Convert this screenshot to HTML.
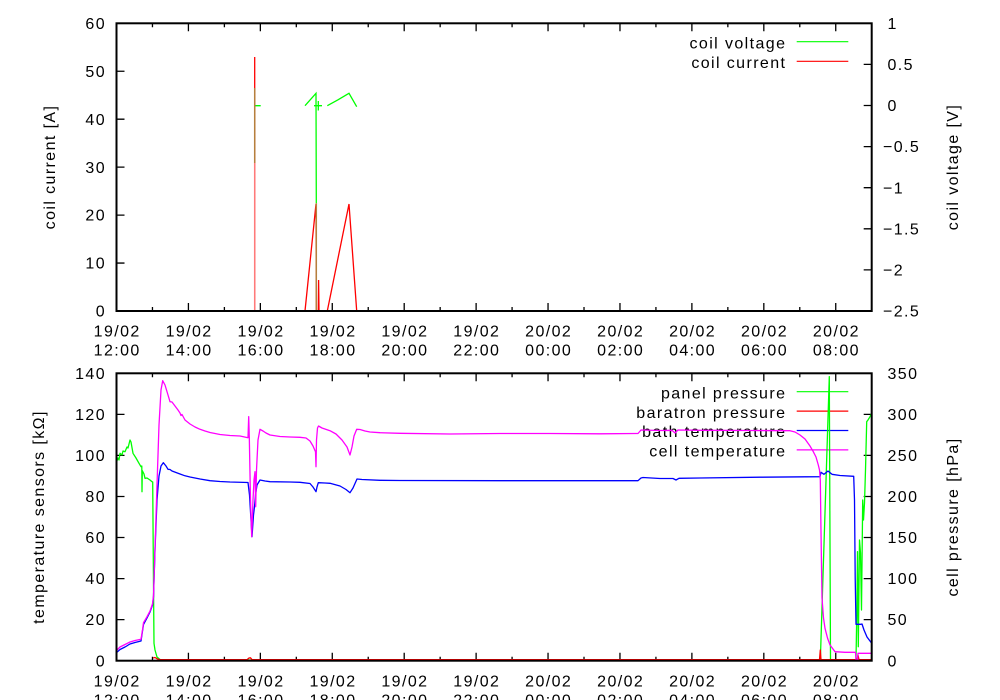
<!DOCTYPE html>
<html><head><meta charset="utf-8"><style>
html,body{margin:0;padding:0;background:#fff;}
svg{display:block;}
text{font-family:"Liberation Sans",sans-serif;font-size:16px;letter-spacing:1.4px;fill:#000;}
</style></head><body>
<svg width="1000" height="700" viewBox="0 0 1000 700" xmlns="http://www.w3.org/2000/svg">
<rect width="1000" height="700" fill="#fff"/>
<defs>
<clipPath id="c1"><rect x="116.5" y="23.3" width="755.2" height="287.7"/></clipPath>
<clipPath id="c2"><rect x="116.5" y="373.3" width="755.2" height="287.4"/></clipPath>
<g id="xtb"><path d="M188.42 0v-8M260.35 0v-8M332.27 0v-8M404.2 0v-8M476.12 0v-8M548.04 0v-8M619.97 0v-8M691.89 0v-8M763.82 0v-8M835.74 0v-8M152.46 0v-4M224.39 0v-4M296.31 0v-4M368.23 0v-4M440.16 0v-4M512.08 0v-4M584.01 0v-4M655.93 0v-4M727.85 0v-4M799.78 0v-4" stroke="#000" stroke-width="1.3" fill="none"/></g>
<g id="xtt"><path d="M188.42 0v8M260.35 0v8M332.27 0v8M404.2 0v8M476.12 0v8M548.04 0v8M619.97 0v8M691.89 0v8M763.82 0v8M835.74 0v8M152.46 0v4M224.39 0v4M296.31 0v4M368.23 0v4M440.16 0v4M512.08 0v4M584.01 0v4M655.93 0v4M727.85 0v4M799.78 0v4" stroke="#000" stroke-width="1.3" fill="none"/></g>
</defs>

<!-- ===== TOP PLOT ===== -->
<use href="#xtb" y="311"/>
<use href="#xtt" y="23.3"/>
<path d="M116.5 263.05h8M116.5 215.1h8M116.5 167.15h8M116.5 119.2h8M116.5 71.25h8" stroke="#000" stroke-width="1.3"/>
<path d="M871.7 64.4h-8M871.7 105.5h-8M871.7 146.6h-8M871.7 187.7h-8M871.7 228.8h-8M871.7 269.9h-8" stroke="#000" stroke-width="1.3"/>

<g text-anchor="end">
<text x="106" y="28.9">60</text>
<text x="106" y="76.9">50</text>
<text x="106" y="124.8">40</text>
<text x="106" y="172.8">30</text>
<text x="106" y="220.7">20</text>
<text x="106" y="268.7">10</text>
<text x="106" y="316.6">0</text>
</g>
<g>
<text x="887.5" y="28.9">1</text>
<text x="887.5" y="70">0.5</text>
<text x="887.5" y="111.1">0</text>
<text x="883" y="152.2">−0.5</text>
<text x="883" y="193.3">−1</text>
<text x="883" y="234.4">−1.5</text>
<text x="883" y="275.5">−2</text>
<text x="883" y="316.6">−2.5</text>
</g>
<g text-anchor="middle">
<text x="117.2" y="336.7">19/02</text><text x="117.2" y="355.7">12:00</text>
<text x="189.1" y="336.7">19/02</text><text x="189.1" y="355.7">14:00</text>
<text x="261" y="336.7">19/02</text><text x="261" y="355.7">16:00</text>
<text x="333" y="336.7">19/02</text><text x="333" y="355.7">18:00</text>
<text x="404.9" y="336.7">19/02</text><text x="404.9" y="355.7">20:00</text>
<text x="476.8" y="336.7">19/02</text><text x="476.8" y="355.7">22:00</text>
<text x="548.7" y="336.7">20/02</text><text x="548.7" y="355.7">00:00</text>
<text x="620.7" y="336.7">20/02</text><text x="620.7" y="355.7">02:00</text>
<text x="692.6" y="336.7">20/02</text><text x="692.6" y="355.7">04:00</text>
<text x="764.5" y="336.7">20/02</text><text x="764.5" y="355.7">06:00</text>
<text x="836.4" y="336.7">20/02</text><text x="836.4" y="355.7">08:00</text>
</g>
<text transform="translate(55,167) rotate(-90)" text-anchor="middle">coil current [A]</text>
<text transform="translate(958,167) rotate(-90)" text-anchor="middle">coil voltage [V]</text>

<text x="786.4" y="48.4" text-anchor="end">coil voltage</text>
<path d="M796.7 41.7H848.3" stroke="#00ff00" stroke-width="1.2"/>
<text x="786.4" y="68" text-anchor="end">coil current</text>
<path d="M796.7 61.3H848.3" stroke="#ff0000" stroke-width="1.2"/>

<g clip-path="url(#c1)" fill="none" stroke-width="1.3">
<path d="M254.7 105.7L260.7 105.7M305 105.7L316 93.3L316.3 203.3M314 105.7L322 105.7M318.3 101L318.3 110.5M327.3 105.7L338 99.8L349 93.3L356.7 106.7" stroke="#00ff00"/>
<path d="M254.7 57L254.7 311M305 311L316 204L316.3 311M318.3 311L318.6 280L319 311M327.3 311L349 204L356.7 311" stroke="#ff0000"/>
<path d="M254.7 88L254.7 163M316.3 203.3L316.3 311" stroke="#b5803d" stroke-width="1.5"/>
<path d="M254.7 163L254.7 311" stroke="#ff7a7a" stroke-width="1.5"/>
</g>
<rect x="116.5" y="23.3" width="755.2" height="287.7" fill="none" stroke="#000" stroke-width="2"/>

<!-- ===== BOTTOM PLOT ===== -->
<use href="#xtb" y="660.7"/>
<use href="#xtt" y="373.3"/>
<path d="M116.5 619.64h8M116.5 578.59h8M116.5 537.53h8M116.5 496.47h8M116.5 455.41h8M116.5 414.36h8" stroke="#000" stroke-width="1.3"/>
<path d="M871.7 619.64h-8M871.7 578.59h-8M871.7 537.53h-8M871.7 496.47h-8M871.7 455.41h-8M871.7 414.36h-8" stroke="#000" stroke-width="1.3"/>

<g text-anchor="end">
<text x="106" y="378.9">140</text>
<text x="106" y="420">120</text>
<text x="106" y="461">100</text>
<text x="106" y="502.1">80</text>
<text x="106" y="543.1">60</text>
<text x="106" y="584.2">40</text>
<text x="106" y="625.2">20</text>
<text x="106" y="666.3">0</text>
</g>
<g>
<text x="887.5" y="378.9">350</text>
<text x="887.5" y="420">300</text>
<text x="887.5" y="461">250</text>
<text x="887.5" y="502.1">200</text>
<text x="887.5" y="543.1">150</text>
<text x="887.5" y="584.2">100</text>
<text x="887.5" y="625.2">50</text>
<text x="887.5" y="666.3">0</text>
</g>
<g text-anchor="middle">
<text x="117.2" y="686.4">19/02</text><text x="117.2" y="705.4">12:00</text>
<text x="189.1" y="686.4">19/02</text><text x="189.1" y="705.4">14:00</text>
<text x="261" y="686.4">19/02</text><text x="261" y="705.4">16:00</text>
<text x="333" y="686.4">19/02</text><text x="333" y="705.4">18:00</text>
<text x="404.9" y="686.4">19/02</text><text x="404.9" y="705.4">20:00</text>
<text x="476.8" y="686.4">19/02</text><text x="476.8" y="705.4">22:00</text>
<text x="548.7" y="686.4">20/02</text><text x="548.7" y="705.4">00:00</text>
<text x="620.7" y="686.4">20/02</text><text x="620.7" y="705.4">02:00</text>
<text x="692.6" y="686.4">20/02</text><text x="692.6" y="705.4">04:00</text>
<text x="764.5" y="686.4">20/02</text><text x="764.5" y="705.4">06:00</text>
<text x="836.4" y="686.4">20/02</text><text x="836.4" y="705.4">08:00</text>
</g>
<text transform="translate(44,517) rotate(-90)" text-anchor="middle">temperature sensors [kΩ]</text>
<text transform="translate(958,517) rotate(-90)" text-anchor="middle">cell pressure [hPa]</text>

<text x="786.4" y="398.4" text-anchor="end">panel pressure</text>
<path d="M796.7 391.7H848.3" stroke="#00ff00" stroke-width="1.2"/>
<text x="786.4" y="417.8" text-anchor="end">baratron pressure</text>
<path d="M796.7 411.1H848.3" stroke="#ff0000" stroke-width="1.2"/>
<text x="786.4" y="437.2" text-anchor="end">bath temperature</text>
<path d="M796.7 430.5H848.3" stroke="#0000ff" stroke-width="1.2"/>
<text x="786.4" y="456.6" text-anchor="end">cell temperature</text>
<path d="M796.7 449.9H848.3" stroke="#ff00ff" stroke-width="1.2"/>

<g clip-path="url(#c2)" fill="none" stroke-width="1.3" stroke-linejoin="round">
<!-- panel pressure -->
<path stroke="#00ff00" d="M116.5 462L118 458L119 460L120 453.3L122 455L123 451L125 451.7L127 447L128 448L130 440L131 442L133 453.3L136 458L139 463.3L141 466.7L141.8 466L142 491.7L142.3 470.7L144 474L145 478.3L147 478L150 480L152 481.7L152.7 482L153.3 560L154 643.3L155 650L157 657L160 659.5L165 660L820 660L820.5 655L829.3 376.7L830.5 660L856 660L857 600L857.5 551.7L858.3 646.7L859.5 540L860.5 553L861.5 610L862.7 500L863.5 520L864.5 503L865.5 470L866.7 421.7L868 420L870 416.7L871.7 413.3"/>
<!-- baratron pressure -->
<path stroke="#ff0000" d="M153 658L155 657.5L157 658.7L160 659.7L247 659.7L249 658L250.5 657.8L252 659.7L819.5 659.7L820.3 650L821 659.7L857 659.7L858 655L859 659.7L871.7 659.7"/>
<!-- bath temperature -->
<path stroke="#0000ff" d="M116.5 652.7L120 649.5L125 647L130 644L135 642.5L141 641L142.5 631L143.5 624.5L147 618L150 612L152.5 605L153.5 597L155 550L157 500L159 476L161 466L163.3 462.7L166 466L168 469.3L170 469.5L172 471L176 472.5L180 474L185 475.8L190 477L200 479L210 480.7L220 481.5L230 482L248 482.5L249.5 495L251 520L252 536.7L253.5 515L254.7 505L255.5 495L257 485L260 480L265 481L270 481.7L290 482L300 482.3L310 483.5L313 487L316 491.7L317 487L318.3 482.7L325 483L330 483.3L340 486L346 489.5L350 492.7L353 488L357 479L362 479.5L380 480.3L400 480.5L500 480.7L600 480.7L638 480.7L641 478L643 477.5L660 478.5L673 478.5L676 480L679 478.3L700 478L760 477.2L820 476.7L821 472.3L824 474.3L828 471L832 474.3L840 475.5L853.7 476.3L854.5 500L855.2 578L856 624.3L861 624.3L862 624L864 630L867 637L870 641L871.7 643.3"/>
<!-- cell temperature -->
<path stroke="#ff00ff" d="M116.5 650.5L120 647L125 644.5L130 642L135 640.5L141 639.3L142.5 630L143.5 622.7L147 616.7L150 611L152.5 604L153.5 596L155 548L157 485L159 425L161 390L162.7 380.7L165 385L168 395L170 401.7L172 402L175 406L178 410L180 413L181 415.5L182 414.5L185 420L190 424L195 427L200 429.3L205 431L210 432.5L220 434.5L230 435.5L240 436L248 437.7L248.7 416.7L249.3 437L250.5 500L251.7 536.7L253 500L254 480L255 471.7L255.7 506.7L256.5 470L258 440L260 429.3L263 431L266 433L270 435L280 436.5L290 437L300 437.3L306 438L310 441L313 446L315.5 451.7L316 466.7L316.5 440L317.5 428L318.5 426L322 428L330 430.7L336 434L342 440L347 447L350 455L352 447L354 436L356.7 429.3L360 429.5L365 431L370 432L380 432.7L400 433.3L450 434L500 433.5L550 433.5L600 433.8L638 433.5L641 430L660 430.5L672 430.3L675 433L678 430L700 430.3L750 430.5L790 430.7L795 432L800 435L805 439L810 446L813.3 451.7L816 457L818.3 465L819.5 470L820.3 480L821 531.7L822 598L823.5 618L825 628.3L827.5 638L830 645L835 651.7L845 652.3L855.5 652.3L856 660L857.5 660L858 653.3L871.7 653.3"/>
</g>
<rect x="116.5" y="373.3" width="755.2" height="287.4" fill="none" stroke="#000" stroke-width="2"/>
</svg>
</body></html>
